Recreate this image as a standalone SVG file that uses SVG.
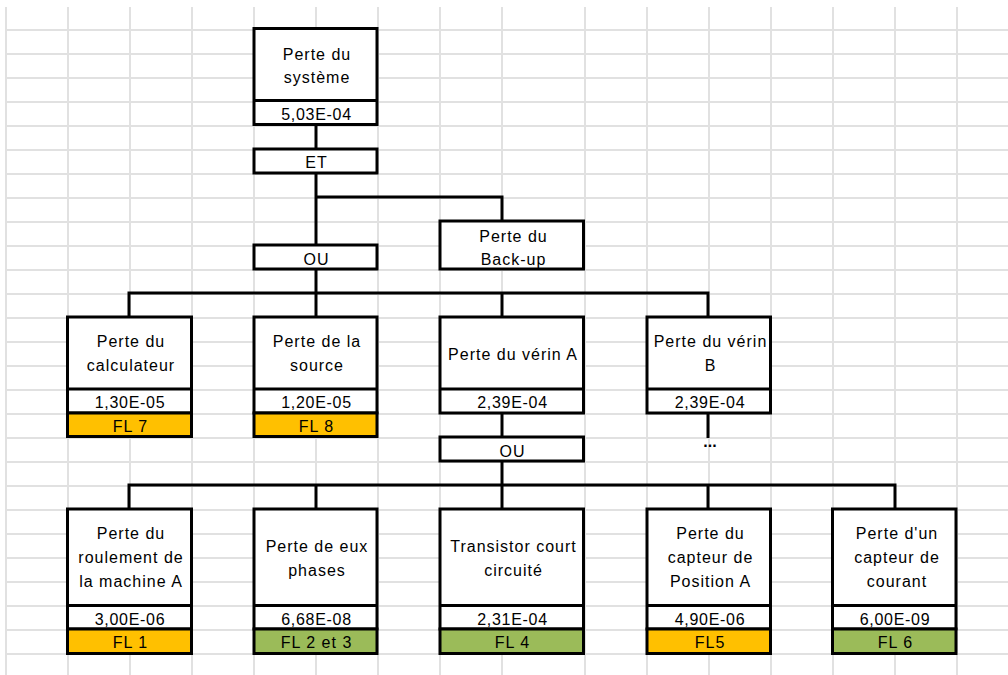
<svg xmlns="http://www.w3.org/2000/svg" width="1008" height="675" viewBox="0 0 1008 675">
<style>
.grid line{stroke:#e1e1e1;stroke-width:2}
.box{fill:#fff;stroke:#000;stroke-width:3}
.div{stroke:#000;stroke-width:3}
.orange{fill:#ffc000;stroke:#000;stroke-width:3}
.green{fill:#9bbb59;stroke:#000;stroke-width:3}
.conn path{fill:none;stroke:#000;stroke-width:3;stroke-linejoin:miter;stroke-linecap:butt}
text{font-family:"Liberation Sans",Arial,sans-serif;font-size:16px;fill:#000;text-anchor:middle;letter-spacing:1px}
text.v{letter-spacing:0.7px}
text.dots{font-weight:bold;letter-spacing:0}
</style>
<rect width="1008" height="675" fill="#fff"/>
<g class="grid">
<line x1="6" y1="7" x2="6" y2="675"/><line x1="68" y1="7" x2="68" y2="675"/><line x1="130" y1="7" x2="130" y2="675"/><line x1="192" y1="7" x2="192" y2="675"/><line x1="254" y1="7" x2="254" y2="675"/><line x1="316" y1="7" x2="316" y2="675"/><line x1="378" y1="7" x2="378" y2="675"/><line x1="440" y1="7" x2="440" y2="675"/><line x1="502" y1="7" x2="502" y2="675"/><line x1="585" y1="7" x2="585" y2="675"/><line x1="647" y1="7" x2="647" y2="675"/><line x1="709" y1="7" x2="709" y2="675"/><line x1="771" y1="7" x2="771" y2="675"/><line x1="833" y1="7" x2="833" y2="675"/><line x1="895" y1="7" x2="895" y2="675"/><line x1="957" y1="7" x2="957" y2="675"/>
<line x1="6" y1="30" x2="1008" y2="30"/><line x1="6" y1="54" x2="1008" y2="54"/><line x1="6" y1="78" x2="1008" y2="78"/><line x1="6" y1="102" x2="1008" y2="102"/><line x1="6" y1="126" x2="1008" y2="126"/><line x1="6" y1="150" x2="1008" y2="150"/><line x1="6" y1="174" x2="1008" y2="174"/><line x1="6" y1="198" x2="1008" y2="198"/><line x1="6" y1="222" x2="1008" y2="222"/><line x1="6" y1="246" x2="1008" y2="246"/><line x1="6" y1="270" x2="1008" y2="270"/><line x1="6" y1="294" x2="1008" y2="294"/><line x1="6" y1="318" x2="1008" y2="318"/><line x1="6" y1="342" x2="1008" y2="342"/><line x1="6" y1="366" x2="1008" y2="366"/><line x1="6" y1="390" x2="1008" y2="390"/><line x1="6" y1="414" x2="1008" y2="414"/><line x1="6" y1="438" x2="1008" y2="438"/><line x1="6" y1="462" x2="1008" y2="462"/><line x1="6" y1="486" x2="1008" y2="486"/><line x1="6" y1="510" x2="1008" y2="510"/><line x1="6" y1="534" x2="1008" y2="534"/><line x1="6" y1="558" x2="1008" y2="558"/><line x1="6" y1="582" x2="1008" y2="582"/><line x1="6" y1="606" x2="1008" y2="606"/><line x1="6" y1="630" x2="1008" y2="630"/><line x1="6" y1="654" x2="1008" y2="654"/>
</g>
<g class="conn" id="connectors">
<path d="M316 124.5V149"/>
<path d="M316 173V245"/>
<path d="M316 197H502V221"/>
<path d="M316 269V293"/>
<path d="M129 317V293H708V317"/>
<path d="M316 293V317"/>
<path d="M502 293V317"/>
<path d="M502 413V437"/>
<path d="M708 413V438"/>
<path d="M502 461V485"/>
<path d="M129 509V485H895V509"/>
<path d="M316 485V509"/>
<path d="M502 485V509"/>
<path d="M708 485V509"/>
</g>
<g id="perte-systeme">
<rect class="box" x="254" y="28.5" width="123" height="96"/>
<line class="div" x1="254" y1="100.5" x2="377" y2="100.5"/>
<text x="317" y="60">Perte du</text>
<text x="317" y="83">système</text>
<text class="v" x="316.5" y="119.5">5,03E-04</text>
</g>
<g id="et">
<rect class="box" x="254" y="149" width="123" height="24"/>
<text x="316.5" y="168">ET</text>
</g>
<g id="ou-1">
<rect class="box" x="254" y="245" width="123" height="24"/>
<text x="316.5" y="265">OU</text>
</g>
<g id="perte-backup">
<rect class="box" x="440" y="221" width="143.5" height="48"/>
<text x="513.5" y="241.5">Perte du</text>
<text x="513.5" y="265">Back-up</text>
</g>
<g id="perte-calculateur">
<rect class="box" x="67.5" y="317" width="124" height="96"/>
<rect class="orange" x="67.5" y="413" width="124" height="23.5"/>
<line class="div" x1="67.5" y1="389" x2="191.5" y2="389"/>
<text x="131" y="347">Perte du</text>
<text x="131" y="371">calculateur</text>
<text class="v" x="130" y="408">1,30E-05</text>
<text x="130.5" y="431.5">FL 7</text>
</g>
<g id="perte-source">
<rect class="box" x="254" y="317" width="123" height="96"/>
<rect class="orange" x="254" y="413" width="123" height="23.5"/>
<line class="div" x1="254" y1="389" x2="377" y2="389"/>
<text x="317" y="347">Perte de la</text>
<text x="317" y="371">source</text>
<text class="v" x="316.5" y="408">1,20E-05</text>
<text x="316.5" y="431.5">FL 8</text>
</g>
<g id="perte-verin-a">
<rect class="box" x="440" y="317" width="143.5" height="96"/>
<line class="div" x1="440" y1="389" x2="583.5" y2="389"/>
<text x="513" y="359.5">Perte du vérin A</text>
<text class="v" x="512.5" y="408">2,39E-04</text>
</g>
<g id="perte-verin-b">
<rect class="box" x="647" y="317" width="123.5" height="96"/>
<line class="div" x1="647" y1="389" x2="770.5" y2="389"/>
<text x="710.5" y="347">Perte du vérin</text>
<text x="710.5" y="371">B</text>
<text class="v" x="710" y="408">2,39E-04</text>
</g>
<g id="suite-b">
<text class="dots" x="710" y="447">...</text>
</g>
<g id="ou-2">
<rect class="box" x="440" y="437" width="143.5" height="24"/>
<text x="512.5" y="456.5">OU</text>
</g>
<g id="perte-roulement">
<rect class="box" x="67.5" y="509" width="124" height="120"/>
<rect class="orange" x="67.5" y="629" width="124" height="24.5"/>
<line class="div" x1="67.5" y1="605.5" x2="191.5" y2="605.5"/>
<text x="131" y="539">Perte du</text>
<text x="131" y="563">roulement de</text>
<text x="131" y="587">la machine A</text>
<text class="v" x="130" y="625">3,00E-06</text>
<text x="130.5" y="648">FL 1</text>
</g>
<g id="perte-phases">
<rect class="box" x="254" y="509" width="123" height="120"/>
<rect class="green" x="254" y="629" width="123" height="24.5"/>
<line class="div" x1="254" y1="605.5" x2="377" y2="605.5"/>
<text x="317" y="551.5">Perte de eux</text>
<text x="317" y="575.5">phases</text>
<text class="v" x="316.5" y="625">6,68E-08</text>
<text x="316.5" y="648">FL 2 et 3</text>
</g>
<g id="transistor">
<rect class="box" x="440" y="509" width="143.5" height="120"/>
<rect class="green" x="440" y="629" width="143.5" height="24.5"/>
<line class="div" x1="440" y1="605.5" x2="583.5" y2="605.5"/>
<text x="513.5" y="551.5">Transistor court</text>
<text x="513.5" y="575.5">circuité</text>
<text class="v" x="512.5" y="625">2,31E-04</text>
<text x="512.5" y="648">FL 4</text>
</g>
<g id="perte-capteur-position">
<rect class="box" x="647" y="509" width="123.5" height="120"/>
<rect class="orange" x="647" y="629" width="123.5" height="24.5"/>
<line class="div" x1="647" y1="605.5" x2="770.5" y2="605.5"/>
<text x="710.5" y="539">Perte du</text>
<text x="710.5" y="563">capteur de</text>
<text x="710.5" y="587">Position A</text>
<text class="v" x="710" y="625">4,90E-06</text>
<text x="710" y="648">FL5</text>
</g>
<g id="perte-capteur-courant">
<rect class="box" x="832.5" y="509" width="123.5" height="120"/>
<rect class="green" x="832.5" y="629" width="123.5" height="24.5"/>
<line class="div" x1="832.5" y1="605.5" x2="956" y2="605.5"/>
<text x="897" y="539">Perte d'un</text>
<text x="897" y="563">capteur de</text>
<text x="897" y="587">courant</text>
<text class="v" x="895" y="625">6,00E-09</text>
<text x="895.5" y="648">FL 6</text>
</g>
</svg>
